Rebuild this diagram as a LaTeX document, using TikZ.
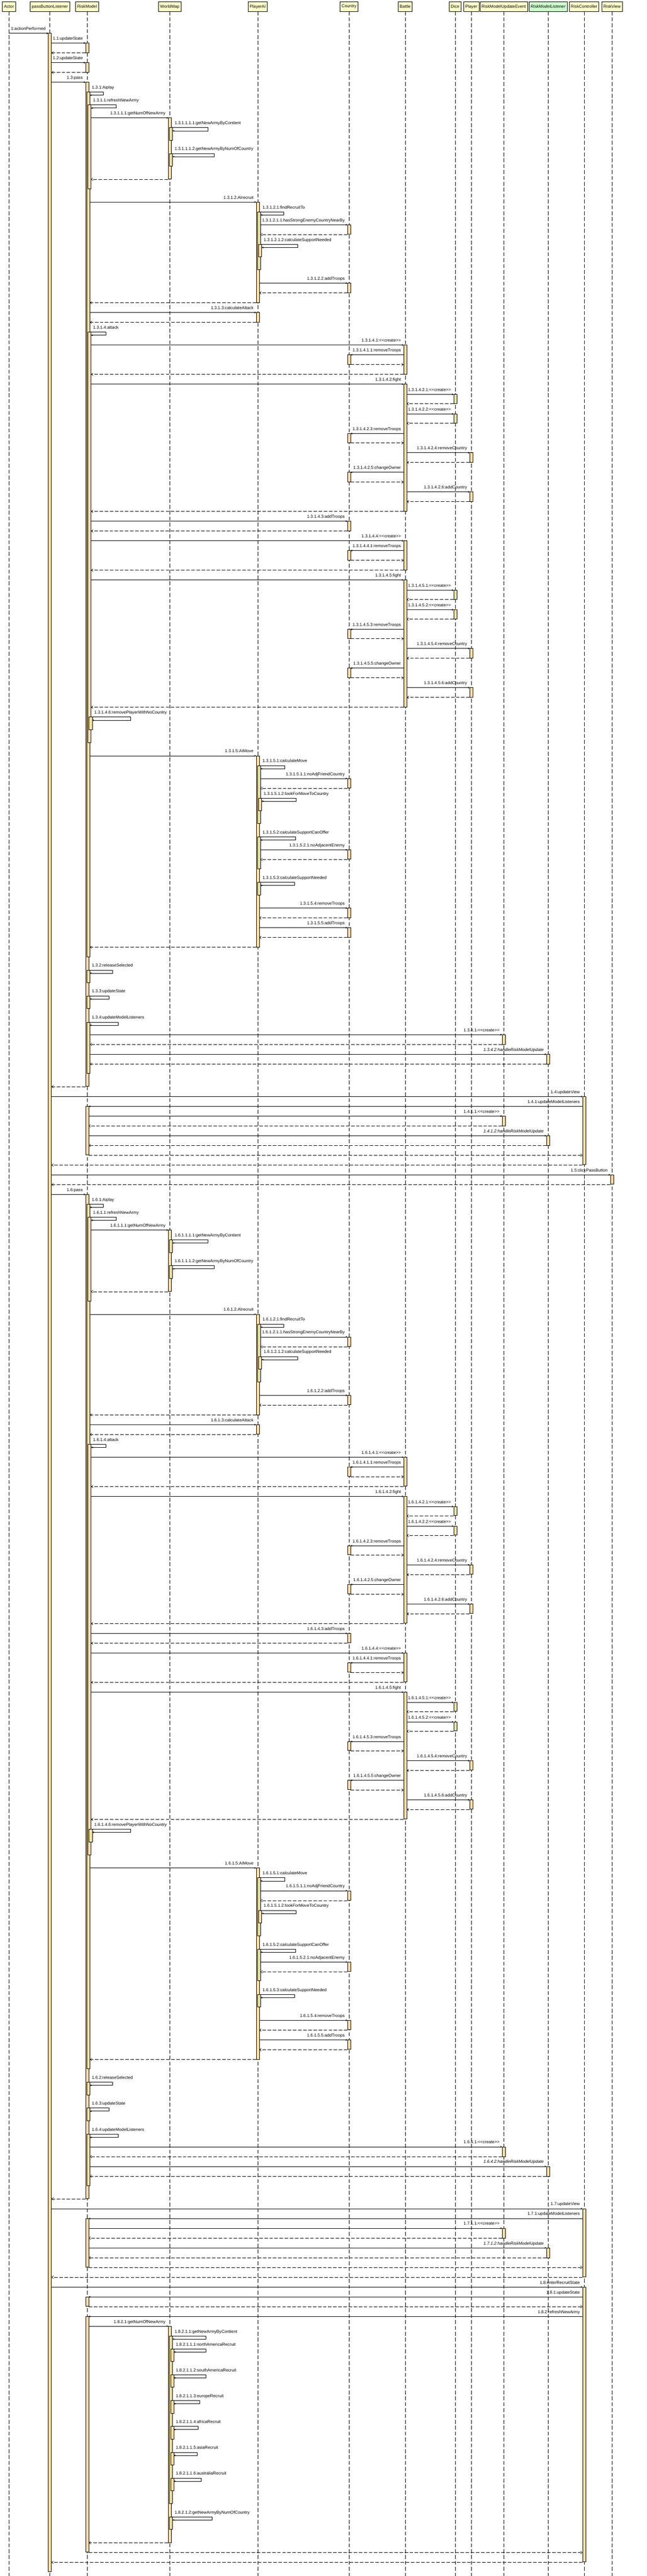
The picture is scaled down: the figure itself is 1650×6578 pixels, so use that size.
\documentclass[tikz,border=0pt]{standalone}
\usepackage{fontspec}
\setmainfont{Liberation Sans}
\usetikzlibrary{arrows.meta,calc}
\definecolor{head_yellow}{RGB}{255,255,204}
\definecolor{iface_green}{RGB}{204,255,204}
\definecolor{bar_orange}{RGB}{255,222,168}
\newcounter{lab}
\newcommand\stereo[1]{<\kern0pt<#1>\kern0pt>}
% message to the right: src, src offset, dst, dst offset, y, label
\newcommand\callr[6]{%
  \draw[call] ($(#1 |- 0,#5)+(#2,0)$) -- ($(#3 |- 0,#5)+(#4,0)$);
  \stepcounter{lab}\node[lbl,anchor=base east] (m\arabic{lab}) at ($(#3 |- 0,#5)+(-10.5,-8)$) {#6};}
% message to the left
\newcommand\calll[6]{%
  \draw[call] ($(#1 |- 0,#5)+(#2,0)$) -- ($(#3 |- 0,#5)+(#4,0)$);
  \stepcounter{lab}\node[lbl,anchor=base east] (m\arabic{lab}) at ($(#1 |- 0,#5)+(-10.5,-8)$) {#6};}
\newcommand\retmsg[5]{%
  \draw[ret] ($(#1 |- 0,#5)+(#2,0)$) -- ($(#3 |- 0,#5)+(#4,0)$);}
\newcommand\actbar[4]{%
  \draw[act] ($(#1 |- 0,#3)+({3*#2-4},0)$) rectangle ($(#1 |- 0,#4)+({3*#2+4},0)$);}
\newcommand\selfcall[4]{%
  \stepcounter{lab}%
  \node[lbl,anchor=base west] (m\arabic{lab}) at ($(#1 |- 0,#3)+({3*#2+9},-8)$) {#4};
  \draw[call] ($(#1 |- 0,#3)+({3*#2+4},0)$) -- (m\arabic{lab}.center |- 0,#3)
    -- (m\arabic{lab}.center |- 0,#3+8) -- ($(#1 |- 0,#3+8)+({3*#2+4},0)$);}
\newcommand\battlegroup[3]{%
  \actbar{battle}{0}{881}{955}
  \callr{model}{10}{battle}{-4}{881}{#1.#2:\stereo{create}}
  \actbar{country}{0}{906}{930}
  \calll{battle}{-4}{country}{4}{906}{#1.#2.1:removeTroops}
  \retmsg{country}{4}{battle}{-4}{931}
  \retmsg{battle}{-4}{model}{10}{956}
  \actbar{battle}{0}{981}{1305}
  \callr{model}{10}{battle}{-4}{981}{#1.#3:fight}
  \actbar{dice}{0}{1007}{1030}
  \callr{battle}{4}{dice}{-4}{1007}{#1.#3.1:\stereo{create}}
  \retmsg{dice}{-4}{battle}{4}{1031}
  \actbar{dice}{0}{1057}{1080}
  \callr{battle}{4}{dice}{-4}{1057}{#1.#3.2:\stereo{create}}
  \retmsg{dice}{-4}{battle}{4}{1081}
  \actbar{country}{0}{1107}{1130}
  \calll{battle}{-4}{country}{4}{1107}{#1.#3.3:removeTroops}
  \retmsg{country}{4}{battle}{-4}{1131}
  \actbar{player}{0}{1156}{1180}
  \callr{battle}{4}{player}{-4}{1156}{#1.#3.4:removeCountry}
  \retmsg{player}{-4}{battle}{4}{1181}
  \actbar{country}{0}{1206}{1230}
  \calll{battle}{-4}{country}{4}{1206}{#1.#3.5:changeOwner}
  \retmsg{country}{4}{battle}{-4}{1231}
  \actbar{player}{0}{1256}{1280}
  \callr{battle}{4}{player}{-4}{1256}{#1.#3.6:addCountry}
  \retmsg{player}{-4}{battle}{4}{1281}
  \retmsg{battle}{-4}{model}{10}{1306}}
\newcommand\passblock[1]{%
  \actbar{model}{0}{210}{2774}
  \callr{pbl}{4}{model}{-4}{210}{1.#1:pass}
  \actbar{model}{1}{235}{2443}
  \selfcall{model}{1}{235}{1.#1.1:Aiplay}
  \actbar{model}{2}{268}{482}
  \selfcall{model}{2}{268}{1.#1.1.1:refreshNewArmy}
  \actbar{map}{0}{301}{457}
  \callr{model}{10}{map}{-4}{301}{1.#1.1.1.1:getNumOfNewArmy}
  \actbar{map}{1}{326}{358}
  \selfcall{map}{1}{326}{1.#1.1.1.1.1:getNewArmyByContient}
  \actbar{map}{1}{392}{424}
  \selfcall{map}{1}{392}{1.#1.1.1.1.2:getNewArmyByNumOfCountry}
  \retmsg{map}{-4}{model}{10}{458}
  \actbar{ai}{0}{516}{773}
  \callr{model}{7}{ai}{-4}{516}{1.#1.1.2:AIrecruit}
  \actbar{ai}{1}{541}{689}
  \selfcall{ai}{1}{541}{1.#1.1.2.1:findRecruitTo}
  \actbar{country}{0}{574}{598}
  \callr{ai}{7}{country}{-4}{574}{1.#1.1.2.1.1:hasStrongEnemyCountryNearBy}
  \retmsg{country}{-4}{ai}{7}{599}
  \actbar{ai}{2}{624}{656}
  \selfcall{ai}{2}{624}{1.#1.1.2.1.2:calculateSupportNeeded}
  \actbar{country}{0}{723}{747}
  \callr{ai}{4}{country}{-4}{723}{1.#1.1.2.2:addTroops}
  \retmsg{country}{-4}{ai}{4}{748}
  \retmsg{ai}{-4}{model}{7}{773}
  \actbar{ai}{0}{798}{822}
  \callr{model}{7}{ai}{-4}{798}{1.#1.1.3:calculateAttack}
  \retmsg{ai}{-4}{model}{7}{823}
  \actbar{model}{2}{848}{1896}
  \selfcall{model}{2}{848}{1.#1.1.4:attack}
  \battlegroup{1.#1.1.4}{1}{2}
  \actbar{country}{0}{1331}{1355}
  \callr{model}{10}{country}{-4}{1331}{1.#1.1.4.3:addTroops}
  \retmsg{country}{-4}{model}{10}{1356}
  \begin{scope}[yshift=-500pt]
    \battlegroup{1.#1.1.4}{4}{5}
  \end{scope}
  \actbar{model}{3}{1831}{1863}
  \selfcall{model}{3}{1831}{1.#1.1.4.6:removePlayerWithNoCountry}
  \actbar{ai}{0}{1930}{2419}
  \callr{model}{7}{ai}{-4}{1930}{1.#1.1.5:AIMove}
  \actbar{ai}{1}{1955}{2103}
  \selfcall{ai}{1}{1955}{1.#1.1.5.1:calculateMove}
  \actbar{country}{0}{1988}{2012}
  \callr{ai}{7}{country}{-4}{1988}{1.#1.1.5.1.1:noAdjFriendCountry}
  \retmsg{country}{-4}{ai}{7}{2013}
  \actbar{ai}{2}{2038}{2070}
  \selfcall{ai}{2}{2038}{1.#1.1.5.1.2:lookForMoveToCountry}
  \actbar{ai}{1}{2137}{2218}
  \selfcall{ai}{1}{2137}{1.#1.1.5.2:calculateSupportCanOffer}
  \actbar{country}{0}{2170}{2194}
  \callr{ai}{7}{country}{-4}{2170}{1.#1.1.5.2.1:noAdjacentEnemy}
  \retmsg{country}{-4}{ai}{7}{2195}
  \actbar{ai}{1}{2253}{2285}
  \selfcall{ai}{1}{2253}{1.#1.1.5.3:calculateSupportNeeded}
  \actbar{country}{0}{2319}{2343}
  \callr{ai}{4}{country}{-4}{2319}{1.#1.1.5.4:removeTroops}
  \retmsg{country}{-4}{ai}{4}{2344}
  \actbar{country}{0}{2369}{2393}
  \callr{ai}{4}{country}{-4}{2369}{1.#1.1.5.5:addTroops}
  \retmsg{country}{-4}{ai}{4}{2394}
  \retmsg{ai}{-4}{model}{7}{2419}
  \actbar{model}{1}{2477}{2509}
  \selfcall{model}{1}{2477}{1.#1.2:releaseSelected}
  \actbar{model}{1}{2543}{2575}
  \selfcall{model}{1}{2543}{1.#1.3:updateState}
  \actbar{model}{1}{2610}{2741}
  \selfcall{model}{1}{2610}{1.#1.4:updateModelListeners}
  \actbar{event}{0}{2642}{2667}
  \callr{model}{7}{event}{-4}{2642}{1.#1.4.1:\stereo{create}}
  \retmsg{event}{-4}{model}{7}{2667}
  \actbar{listener}{0}{2692}{2717}
  \callr{model}{7}{listener}{-4}{2692}{\itshape 1.#1.4.2:handleRiskModelUpdate}
  \retmsg{listener}{-4}{model}{7}{2717}
  \retmsg{model}{-4}{pbl}{4}{2775}}
\newcommand\viewblock[1]{%
  \actbar{ctrl}{0}{2800}{2974}
  \callr{pbl}{4}{ctrl}{-4}{2800}{1.#1:updateView}
  \actbar{model}{0}{2825}{2949}
  \calll{ctrl}{-4}{model}{4}{2825}{1.#1.1:updateModelListeners}
  \actbar{event}{0}{2850}{2875}
  \callr{model}{4}{event}{-4}{2850}{1.#1.1.1:\stereo{create}}
  \retmsg{event}{-4}{model}{4}{2875}
  \actbar{listener}{0}{2900}{2925}
  \callr{model}{4}{listener}{-4}{2900}{\itshape 1.#1.1.2:handleRiskModelUpdate}
  \retmsg{listener}{-4}{model}{4}{2925}
  \retmsg{model}{4}{ctrl}{-4}{2950}
  \retmsg{ctrl}{-4}{pbl}{4}{2975}}

\begin{document}
\begin{tikzpicture}[x=1pt,y=-1pt,line width=0.8pt]
  \tikzstyle{head}=[draw, fill=head_yellow, minimum height=24pt, inner xsep=4pt, inner ysep=0pt, font=\fontsize{10.8}{13}\selectfont]
  \tikzstyle{lbl}=[inner sep=0pt, font=\fontsize{10.8}{13}\selectfont]
  \tikzstyle{life}=[dash pattern=on 10pt off 5pt]
  \tikzstyle{act}=[draw, fill=bar_orange]
  \tikzstyle{call}=[-{Triangle[length=4pt,width=4pt]}]
  \tikzstyle{ret}=[dash pattern=on 9pt off 4pt, -{Straight Barb[length=4.5pt,width=7pt]}]

  \fill[white] (0,0) rectangle (1650,6578);
  \useasboundingbox (0,0) rectangle (1650,6578);

  \node[head] (actor)    at (22.9,17)   {Actor};
  \node[head] (pbl)      at (127.3,17)  {passButtonListener};
  \node[head] (model)    at (222.3,17)  {RiskModel};
  \node[head] (map)      at (433.3,17)  {WorldMap};
  \node[head] (ai)       at (657.7,17)  {PlayerAI};
  \node[head] (country)  at (890.7,17)  {Country};
  \node[head] (battle)   at (1034,17)   {Battle};
  \node[head] (dice)     at (1161.6,17) {Dice};
  \node[head] (player)   at (1202.7,17) {Player};
  \node[head] (event)    at (1285.5,17) {RiskModelUpdateEvent};
  \node[head, fill=iface_green, font=\fontsize{10.8}{13}\selectfont\itshape] (listener) at (1398.5,17) {RiskModelListener};
  \node[head] (ctrl)     at (1490.5,17) {RiskController};
  \node[head] (view)     at (1561.7,17) {RiskView};
  \foreach \who in {actor,pbl,model,map,ai,country,battle,dice,player,event,listener,ctrl,view}
    \draw[life] (\who.south) -- (\who |- 0,6578);

  \actbar{pbl}{0}{85}{6567}
  \callr{actor}{0}{pbl}{-4}{85}{1:actionPerformed}
  \actbar{model}{0}{110}{135}
  \callr{pbl}{4}{model}{-4}{110}{1.1:updateState}
  \retmsg{model}{-4}{pbl}{4}{135}
  \actbar{model}{0}{160}{185}
  \callr{pbl}{4}{model}{-4}{160}{1.2:updateState}
  \retmsg{model}{-4}{pbl}{4}{185}

  \passblock{3}
  \viewblock{4}

  \actbar{view}{0}{3000}{3024}
  \callr{pbl}{4}{view}{-4}{3000}{1.5:clickPassButton}
  \retmsg{view}{-4}{pbl}{4}{3025}

  \begin{scope}[yshift=-2840pt]
    \passblock{6}
    \viewblock{7}
  \end{scope}

  \actbar{ctrl}{0}{5840}{6542}
  \callr{pbl}{4}{ctrl}{-4}{5840}{1.8:enterRecruitState}
  \actbar{model}{0}{5865}{5889}
  \calll{ctrl}{-4}{model}{4}{5865}{1.8.1:updateState}
  \retmsg{model}{4}{ctrl}{-4}{5890}
  \actbar{model}{0}{5915}{6517}
  \calll{ctrl}{-4}{model}{4}{5915}{1.8.2:refreshNewArmy}
  \actbar{map}{0}{5940}{6493}
  \callr{model}{4}{map}{-4}{5940}{1.8.2.1:getNumOfNewArmy}
  \actbar{map}{1}{5965}{6393}
  \selfcall{map}{1}{5965}{1.8.2.1.1:getNewArmyByContient}
  \foreach \kk/\cont/\yy in {1/northAmerica/5998,2/southAmerica/6064,3/europe/6130,4/africa/6196,5/asia/6262,6/australia/6328}{
    \actbar{map}{2}{\yy}{\yy+32}
    \selfcall{map}{2}{\yy}{1.8.2.1.1.\kk:\cont Recruit}
  }
  \actbar{map}{1}{6427}{6459}
  \selfcall{map}{1}{6427}{1.8.2.1.2:getNewArmyByNumOfCountry}
  \retmsg{map}{-4}{model}{4}{6493}
  \retmsg{model}{4}{ctrl}{-4}{6518}
  \retmsg{ctrl}{-4}{pbl}{4}{6543}
\end{tikzpicture}
\end{document}
